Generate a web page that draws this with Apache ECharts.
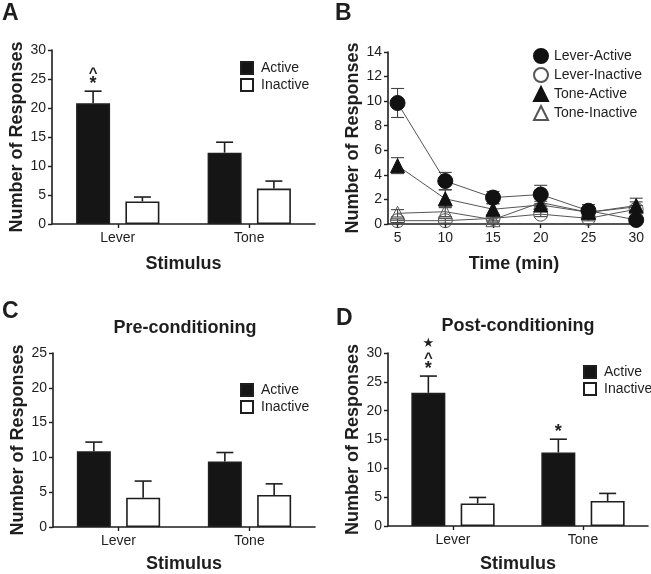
<!DOCTYPE html>
<html>
<head>
<meta charset="utf-8">
<script src="https://cdn.jsdelivr.net/npm/echarts@6/dist/echarts.min.js"></script>
<style>
html,body{margin:0;padding:0;background:#fff;}
#chart{width:651px;height:574px;}
</style>
</head>
<body>
<div id="chart"></div>
<script>
// ---------- data ----------
const stimulusCats = ['Lever', 'Tone'];

// Panel A
const activeA = [20.8, 12.3];
const activeAErr = [2.1, 1.8];
const inactiveA = [3.9, 6.1];
const inactiveAErr = [0.75, 1.3];
const annotA = [['*', '^'], []];

// Panel B
const timeTicks = [5, 10, 15, 20, 25, 30];
const leverActiveB = [9.85, 3.5, 2.15, 2.4, 1.08, 0.33];
const leverActiveBErr = [1.18, 0.7, 0.5, 0.75, 0.5, 0.3];
const leverInactiveB = [0.27, 0.27, 0.46, 0.8, 0.46, 1.2];
const leverInactiveBErr = [0.15, 0.2, 0.2, 0.2, 0.2, 0.3];
const toneActiveB = [4.75, 2.05, 1.2, 1.55, 0.95, 1.5];
const toneActiveBErr = [0.65, 0.72, 0.45, 0.3, 0.35, 0.6];
const toneInactiveB = [0.87, 1.0, 0.35, 1.75, 0.95, 1.4];
const toneInactiveBErr = [0.3, 0.4, 0.2, 0.3, 0.25, 0.4];

// Panel C
const activeC = [10.9, 9.4];
const activeCErr = [1.3, 1.3];
const inactiveC = [4.2, 4.6];
const inactiveCErr = [2.4, 1.6];

// Panel D
const activeD = [23.1, 12.75];
const activeDErr = [2.9, 2.3];
const inactiveD = [3.9, 4.35];
const inactiveDErr = [1.05, 1.3];
const annotD = [['*', '^', '★'], ['*']];

// ---------- styles ----------
const FONT = 'Liberation Sans';
const INK = '#1e1e1e';
const BAR_W = 34;
const GAP_RATIO = 0.45;
const HALF = BAR_W * (1 + GAP_RATIO) / 2;
const GLYPH = {
  '*': {size: 18, shift: 4},
  '^': {size: 15, shift: 4},
  '★': {size: 13, shift: 0}
};
const LEVEL = [11, 21, 32];

function barErr(vals, errs, idx, sign, annots) {
  return {
    type: 'custom',
    xAxisIndex: idx, yAxisIndex: idx,
    z: 5,
    silent: true,
    encode: {x: 0, y: [1, 2]},
    data: vals.map((v, i) => [i, v, v + errs[i]]),
    renderItem: function (params, api) {
      const i = api.value(0);
      const p0 = api.coord([i, api.value(1)]);
      const p1 = api.coord([i, api.value(2)]);
      const x = p0[0] + sign * HALF;
      const cap = 8.5;
      const children = [
        {type: 'line', shape: {x1: x, y1: p0[1], x2: x, y2: p1[1]}, style: {stroke: INK, lineWidth: 1.6}},
        {type: 'line', shape: {x1: x - cap, y1: p1[1], x2: x + cap, y2: p1[1]}, style: {stroke: INK, lineWidth: 1.6}}
      ];
      const ann = annots ? annots[i] : null;
      if (ann) {
        ann.forEach((s, k) => {
          const g = GLYPH[s];
          children.push({
            type: 'text',
            style: {
              text: s, x: x, y: p1[1] - LEVEL[k] + g.shift,
              align: 'center', verticalAlign: 'middle',
              fontFamily: s === '★' ? 'DejaVu Sans' : FONT, fontWeight: 'bold',
              fontSize: g.size, fill: INK
            }
          });
        });
      }
      return {type: 'group', children: children};
    }
  };
}

function barSeries(name, vals, idx, filled) {
  return {
    type: 'bar', name: name,
    xAxisIndex: idx, yAxisIndex: idx,
    barWidth: BAR_W, barGap: (GAP_RATIO * 100) + '%',
    data: vals,
    itemStyle: {color: filled ? '#151515' : '#ffffff', borderColor: INK, borderWidth: 1.6},
    z: 3
  };
}

function lineErr(vals, errs) {
  return {
    type: 'custom',
    xAxisIndex: 1, yAxisIndex: 1,
    z: 2, silent: true,
    encode: {x: 0, y: [1, 2, 3]},
    data: vals.map((v, i) => [timeTicks[i], v, v - errs[i], v + errs[i]]),
    renderItem: function (params, api) {
      const x = api.value(0);
      const lo = api.coord([x, api.value(2)]);
      const hi = api.coord([x, api.value(3)]);
      const cap = 6.5;
      const st = {stroke: '#444', lineWidth: 1.1};
      return {type: 'group', children: [
        {type: 'line', shape: {x1: lo[0], y1: lo[1], x2: hi[0], y2: hi[1]}, style: st},
        {type: 'line', shape: {x1: lo[0] - cap, y1: lo[1], x2: lo[0] + cap, y2: lo[1]}, style: st},
        {type: 'line', shape: {x1: hi[0] - cap, y1: hi[1], x2: hi[0] + cap, y2: hi[1]}, style: st}
      ]};
    }
  };
}

function lineSeries(name, vals, symbol, size, filled) {
  return {
    type: 'line', name: name,
    xAxisIndex: 1, yAxisIndex: 1,
    data: vals.map((v, i) => [timeTicks[i], v]),
    symbol: symbol, symbolSize: size,
    showAllSymbol: true,
    lineStyle: {color: '#555', width: 1},
    itemStyle: filled ? {color: '#111', borderColor: '#111', borderWidth: 1}
                      : {color: 'rgba(255,255,255,0)', borderColor: '#555', borderWidth: 1},
    z: filled ? 4 : 3
  };
}

const axisLine = {show: true, lineStyle: {color: INK, width: 1.6}};
const axisTick = {show: true, length: 4, lineStyle: {color: INK, width: 1.4}};
const tickLabel = {fontFamily: FONT, fontSize: 14, color: INK};
const nameStyle = {fontFamily: FONT, fontSize: 18, fontWeight: 'bold', color: INK};

function catX(idx, gap) {
  return {
    type: 'category', gridIndex: idx, data: stimulusCats,
    axisLine: axisLine,
    axisTick: Object.assign({alignWithLabel: true}, axisTick),
    axisLabel: Object.assign({margin: 7}, tickLabel),
    name: 'Stimulus', nameLocation: 'middle', nameGap: gap, nameTextStyle: nameStyle
  };
}
function valY(idx, max, interval, gap) {
  return {
    type: 'value', gridIndex: idx, min: 0, max: max, interval: interval,
    axisLine: axisLine, axisTick: axisTick,
    axisLabel: Object.assign({margin: 6}, tickLabel),
    splitLine: {show: false},
    name: 'Number of Responses', nameLocation: 'middle', nameGap: gap, nameTextStyle: nameStyle
  };
}

function barLegend(left, top) {
  return {
    orient: 'vertical', left: left, top: top, padding: 0,
    itemWidth: 12, itemHeight: 12, itemGap: 3,
    icon: 'rect',
    selectedMode: false,
    data: ['Active', 'Inactive'],
    textStyle: {fontFamily: FONT, fontSize: 14, color: INK, padding: [0, 0, 0, 3]}
  };
}

const letterStyle = {fontFamily: FONT, fontSize: 23, fontWeight: 'bold', color: INK};
const titleStyle = {fontFamily: FONT, fontSize: 18, fontWeight: 'bold', color: INK};

const option = {
  animation: false,
  backgroundColor: '#fff',
  textStyle: {fontFamily: FONT},
  title: [
    {text: 'A', left: 2, top: 2, padding: 0, textStyle: letterStyle},
    {text: 'B', left: 335, top: 2, padding: 0, textStyle: letterStyle},
    {text: 'C', left: 2, top: 300, padding: 0, textStyle: letterStyle},
    {text: 'D', left: 336, top: 307, padding: 0, textStyle: letterStyle},
    {text: 'Pre-conditioning', left: 185, textAlign: 'center', top: 319, padding: 0, textStyle: titleStyle},
    {text: 'Post-conditioning', left: 518, textAlign: 'center', top: 317, padding: 0, textStyle: titleStyle}
  ],
  grid: [
    {left: 52, right: 336, top: 50, bottom: 350},
    {left: 388, right: 11, top: 52, bottom: 350},
    {left: 53, right: 336, top: 353, bottom: 47},
    {left: 388, right: 3, top: 353, bottom: 48}
  ],
  legend: [
    barLegend(240, 61),
    {
      orient: 'vertical', left: 533, top: 48, padding: 0,
      itemWidth: 14, itemHeight: 14, itemGap: 3, selectedMode: false,
      data: [
        {name: 'Lever-Active', icon: 'circle'},
        {name: 'Lever-Inactive', icon: 'circle'},
        {name: 'Tone-Active', icon: 'triangle'},
        {name: 'Tone-Inactive', icon: 'triangle'}
      ],
      textStyle: {fontFamily: FONT, fontSize: 14, color: INK, padding: [0, 0, 0, 1]}
    },
    barLegend(240, 383),
    barLegend(583, 365)
  ],
  xAxis: [
    catX(0, 31),
    {
      type: 'value', gridIndex: 1, min: 4, max: 30.4,
      axisLine: axisLine,
      axisTick: Object.assign({customValues: timeTicks}, axisTick),
      axisLabel: Object.assign({margin: 7, customValues: timeTicks}, tickLabel),
      splitLine: {show: false},
      name: 'Time (min)', nameLocation: 'middle', nameGap: 31, nameTextStyle: nameStyle
    },
    catX(2, 28),
    catX(3, 29)
  ],
  yAxis: [
    valY(0, 30, 5, 24),
    valY(1, 14, 2, 25),
    valY(2, 25, 5, 26),
    valY(3, 30, 5, 25)
  ],
  series: [
    barSeries('Active', activeA, 0, true),
    barSeries('Inactive', inactiveA, 0, false),
    barErr(activeA, activeAErr, 0, -1, annotA),
    barErr(inactiveA, inactiveAErr, 0, 1, null),

    lineErr(leverActiveB, leverActiveBErr),
    lineErr(leverInactiveB, leverInactiveBErr),
    lineErr(toneActiveB, toneActiveBErr),
    lineErr(toneInactiveB, toneInactiveBErr),
    lineSeries('Lever-Active', leverActiveB, 'circle', 15, true),
    lineSeries('Lever-Inactive', leverInactiveB, 'circle', 14, false),
    lineSeries('Tone-Active', toneActiveB, 'triangle', 14, true),
    lineSeries('Tone-Inactive', toneInactiveB, 'triangle', 14, false),

    barSeries('Active', activeC, 2, true),
    barSeries('Inactive', inactiveC, 2, false),
    barErr(activeC, activeCErr, 2, -1, null),
    barErr(inactiveC, inactiveCErr, 2, 1, null),

    barSeries('Active', activeD, 3, true),
    barSeries('Inactive', inactiveD, 3, false),
    barErr(activeD, activeDErr, 3, -1, annotD),
    barErr(inactiveD, inactiveDErr, 3, 1, null)
  ]
};

const chart = echarts.init(document.getElementById('chart'), null, {renderer: 'canvas'});
chart.setOption(option);
</script>
</body>
</html>
